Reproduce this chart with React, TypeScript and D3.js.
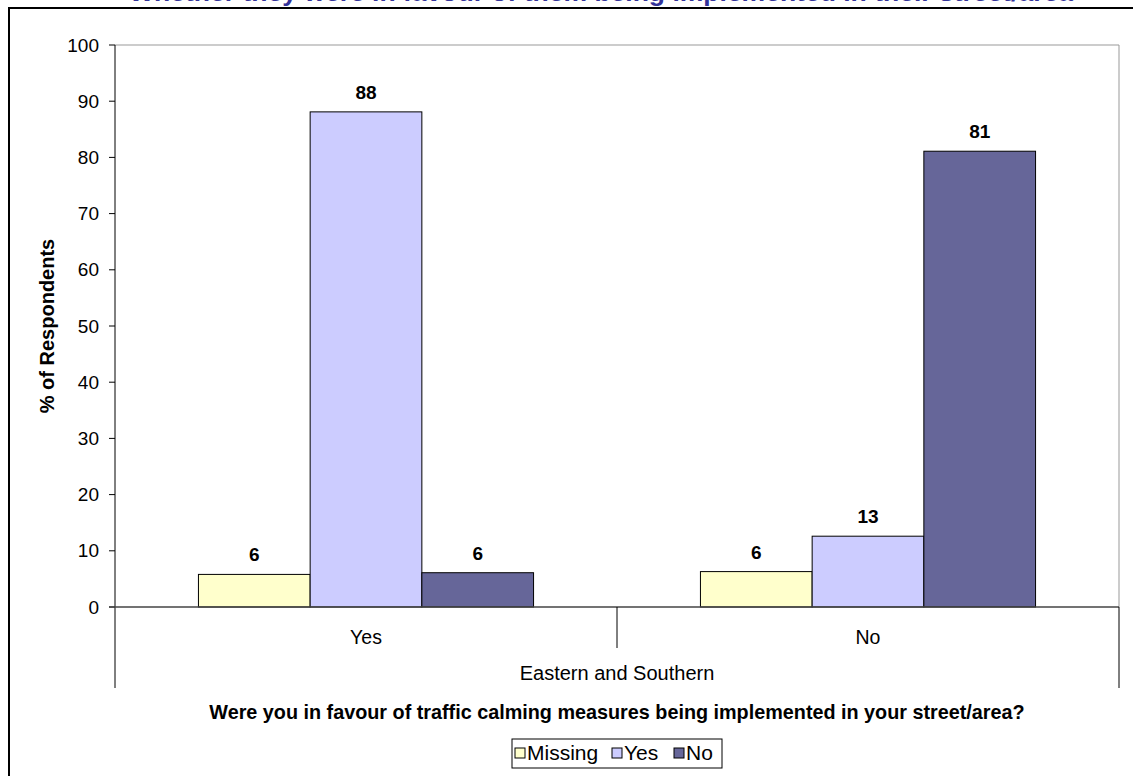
import React from "react";
import * as d3 from "d3";

const categories = ["Yes", "No"];
const groupLabel = "Eastern and Southern";
const seriesNames = ["Missing", "Yes", "No"];
const missingValues = [5.8, 6.3];
const yesValues = [88.1, 12.6];
const noValues = [6.1, 81.1];
const yTicks = [0, 10, 20, 30, 40, 50, 60, 70, 80, 90, 100];
const seriesColors = ["#FFFFCC", "#CCCCFF", "#666699"];

const title = "Whether they were in favour of them being implemented in their street/area";
const xTitle = "Were you in favour of traffic calming measures being implemented in your street/area?";
const yTitle = "% of Respondents";

export default function App() {
  const W = 1133, H = 776;
  const left = 115, right = 1119, top = 45, bottom = 607;
  const y = d3.scaleLinear().domain([0, 100]).range([bottom, top]);
  const x0 = d3.scaleBand().domain(categories).range([left, right]).paddingInner(0).paddingOuter(0);
  const x1 = d3.scaleBand().domain(seriesNames).range([0, x0.bandwidth()]).paddingInner(0).paddingOuter(0.747);
  const seriesValues = [missingValues, yesValues, noValues];
  const font = "Arial, 'Liberation Sans', sans-serif";
  const legendX = [515, 612, 674];

  return (
    <svg width={W} height={H} style={{ position: "absolute", left: 0, top: 0 }} fontFamily={font}>
      <rect x={0} y={0} width={W} height={H} fill="#fff" />
      <text x={1073} y={1} textAnchor="end" fontSize={26.5} fontWeight="bold" fill="#333399">{title}</text>
      <rect x={9} y={8} width={W + 20} height={H + 20} fill="none" stroke="#000" strokeWidth={2} />
      {/* plot area border */}
      <line x1={left} x2={right} y1={top} y2={top} stroke="#999" />
      <line x1={right} x2={right} y1={top} y2={bottom} stroke="#999" />
      {/* bars */}
      {categories.map((c, ci) =>
        seriesNames.map((s, si) => {
          const v = seriesValues[si][ci];
          const bx = (x0(c) as number) + (x1(s) as number);
          const bw = x1.bandwidth();
          return (
            <g key={c + s}>
              <rect x={bx} y={y(v)} width={bw} height={bottom - y(v)} fill={seriesColors[si]} stroke="#000" strokeWidth={1} />
              <text x={bx + bw / 2} y={y(v) - 13} textAnchor="middle" fontSize={19} fontWeight="bold" fill="#000">{Math.round(v)}</text>
            </g>
          );
        })
      )}
      {/* y axis */}
      <line x1={left} x2={left} y1={top} y2={688} stroke="#000" />
      {yTicks.map((t) => (
        <g key={t}>
          <line x1={left - 6} x2={left} y1={y(t)} y2={y(t)} stroke="#000" />
          <text x={left - 16} y={y(t) + 6.5} textAnchor="end" fontSize={19} fill="#000">{t}</text>
        </g>
      ))}
      {/* x axis */}
      <line x1={left - 6} x2={right} y1={bottom} y2={bottom} stroke="#444" strokeWidth={1.5} />
      <line x1={right} x2={right} y1={bottom} y2={688} stroke="#000" />
      {categories.slice(1).map((c) => (
        <line key={c} x1={x0(c)} x2={x0(c)} y1={bottom} y2={648} stroke="#000" />
      ))}
      {categories.map((c) => (
        <text key={c} x={(x0(c) as number) + x0.bandwidth() / 2} y={644} textAnchor="middle" fontSize={19.5} fill="#000">{c}</text>
      ))}
      <text x={(left + right) / 2} y={680} textAnchor="middle" fontSize={20} fill="#000">{groupLabel}</text>
      <text x={(left + right) / 2} y={719} textAnchor="middle" fontSize={19.8} fontWeight="bold" fill="#000">{xTitle}</text>
      <text transform={`translate(54, ${(top + bottom) / 2}) rotate(-90)`} textAnchor="middle" fontSize={20} fontWeight="bold" fill="#000">{yTitle}</text>
      {/* legend */}
      <rect x={512} y={739} width={210} height={29} fill="#fff" stroke="#000" />
      {seriesNames.map((s, i) => {
        const xs = legendX[i];
        return (
          <g key={s}>
            <rect x={xs} y={748} width={10} height={10} fill={seriesColors[i]} stroke="#000" />
            <text x={xs + 12} y={760} fontSize={21} fill="#000">{s}</text>
          </g>
        );
      })}
    </svg>
  );
}
